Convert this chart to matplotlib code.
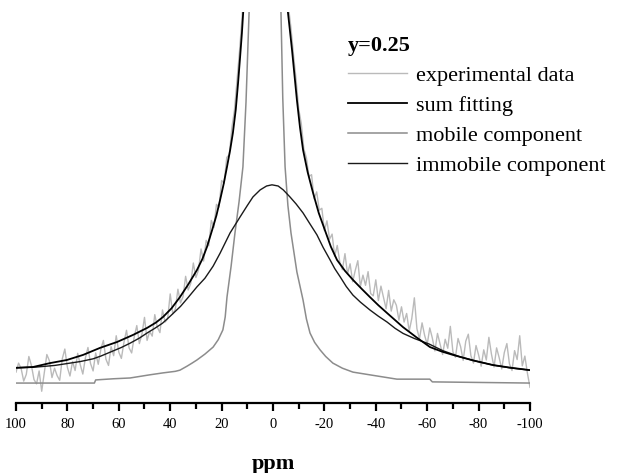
import matplotlib

matplotlib.use("Agg")
import matplotlib.pyplot as plt  # noqa: E402
from matplotlib.ticker import MultipleLocator  # noqa: E402

# chemical shift (ppm) and intensity (a.u., axis top = 100)
exp_ppm = list(range(100, -101, -1))
exp_int = [
    # 100 .. 12 ppm
    7.9, 10.2, 8.8, 5.6, 7.3, 11.9, 9.6, 6.0, 4.9, 8.2,
    3.0, 7.7, 12.4, 10.8, 6.5, 8.9, 7.0, 5.8, 11.3, 13.8,
    9.1, 6.9, 10.6, 8.3, 12.7, 9.8, 7.4, 11.5, 14.2, 10.1,
    8.2, 12.8, 9.9, 13.7, 16.0, 11.2, 9.6, 14.4, 12.1, 17.2,
    13.0, 11.4, 15.5, 18.6, 14.1, 12.8, 16.9, 19.8, 15.2, 17.6,
    21.9, 16.0, 18.3, 17.1, 22.6, 19.4, 18.0, 23.8, 20.7, 21.5,
    27.9, 22.8, 24.0, 29.1, 25.6, 27.2, 32.4, 28.9, 30.6, 35.8,
    32.1, 34.0, 39.4, 36.3, 41.6, 40.2, 46.7, 44.9, 50.8, 50.1,
    56.9, 56.2, 62.8, 63.5, 70.4, 74.9, 82.5, 90.2, 99.0,
    # 11 .. -5 ppm (above the top of the frame)
    112, 128, 155, 185, 220, 262, 305, 342, 362, 345,
    310, 272, 230, 192, 160, 132, 112,
    # -6 .. -100 ppm
    101.5, 95.8, 88.9, 82.6, 75.2, 71.5, 65.0, 62.7, 57.9, 58.4,
    52.2, 54.0, 49.3, 49.8, 44.1, 46.6, 41.9, 43.2, 37.5, 40.3,
    36.0, 34.1, 38.2, 33.0, 35.6, 31.0, 33.9, 36.4, 29.8, 32.7,
    30.1, 33.6, 28.0, 27.4, 31.5, 26.2, 29.9, 27.0, 24.1, 28.8,
    23.5, 26.4, 25.0, 21.2, 24.6, 20.7, 22.9, 18.4, 21.6, 26.9,
    19.0, 16.4, 20.5, 17.3, 15.0, 19.2, 16.6, 13.3, 17.8, 15.1,
    12.4, 16.3, 14.0, 19.6, 13.1, 11.7, 16.5, 14.4, 10.9, 15.8,
    17.6, 12.1, 10.2, 14.7, 12.3, 9.4, 13.6, 11.0, 16.8, 12.5,
    9.2, 14.1, 11.6, 8.7, 12.9, 15.2, 10.0, 8.3, 13.4, 11.1,
    17.2, 9.5, 12.0, 7.6, 4.0,
]

sum_ppm = [100, 93.4, 86.8, 80.2, 73.9, 67.3, 60.7, 54.5, 49.0, 45.5,
           42.8, 39.5, 36.2, 33.0, 29.6, 27.5, 25.7, 23.7, 22.0, 20.6,
           19.2, 17.9, 16.7, 15.6, 14.5, 13.6, 12.8, 12.1, 11.4, 10,
           8, 6, 4, 3, 2, 0, -2, -4, -5.8, -7.4,
           -9.3, -10.5, -11.7, -13.5, -15.6, -17.8, -20.2, -22.5, -24.9, -28.0,
           -31.1, -34.5, -37.7, -41.0, -44.4, -47.5, -50.6, -55.8, -61.1, -65.5,
           -70.0, -77.8, -85.6, -92.8, -100]
sum_int = [9.0, 9.2, 10.2, 11.0, 12.3, 14.1, 15.6, 17.4, 19.2, 20.6,
           22.0, 24.2, 27.1, 30.3, 34.0, 36.8, 39.9, 44.2, 48.0, 51.9,
           56.0, 60.4, 64.6, 69.1, 75.0, 81.8, 88.5, 94.6, 102, 125,
           180, 260, 340, 360, 340, 270, 190, 130, 100, 90.3,
           77.5, 70.5, 64.7, 59.0, 53.7, 48.6, 44.2, 40.0, 36.6, 33.8,
           31.5, 29.2, 27.1, 25.0, 23.0, 21.2, 19.4, 16.8, 14.3, 13.2,
           12.3, 10.9, 9.7, 9.0, 8.4]

mobile_ppm = [100, 69.5, 69, 62, 55.6, 48, 42.8, 38, 36.2, 33.5,
              31.5, 29.6, 26.5, 23.3, 21.3, 19.5, 18.6, 17.9, 16.3, 14.8,
              13.2, 11.7, 10.5, 9.3, 7, 5, 3, 1, -1, -3.1,
              -3.8, -4.7, -5.8, -7.0, -9.3, -11.7, -13.0, -14.4, -16.2, -18.3,
              -20.5, -23.3, -27, -31.1, -37.7, -48.2, -61, -62, -100]
mobile_int = [5.1, 5.1, 5.9, 6.2, 6.4, 7.2, 7.7, 8.1, 8.4, 9.4,
              10.2, 11.0, 12.5, 14.3, 16.2, 18.7, 22.0, 27.1, 35.0, 43.5,
              51.5, 60.4, 77, 100, 150, 250, 330, 250, 150, 100,
              78, 60.4, 50.5, 43.5, 33.5, 26.3, 21.5, 17.9, 15.5, 13.6,
              11.9, 10.2, 8.9, 7.9, 7.2, 6.1, 6.1, 5.4, 5.1]

immobile_ppm = [100, 92, 85, 80, 75, 70, 67, 63, 59, 55.6,
                52, 49, 46, 43, 40, 36, 33, 29.6, 26.5, 23.3,
                20.6, 16.7, 12.8, 10, 7.8, 5, 2.5, 0.4, -2, -4,
                -6.6, -9, -11.7, -14, -17.1, -19.5, -22.2, -24, -26.2, -28.5,
                -31.1, -34, -37.7, -41, -44.4, -47.5, -50.6, -55, -60.7, -66,
                -72.8, -79, -85.6, -92, -100]
immobile_int = [9.0, 9.2, 9.6, 10.1, 10.6, 11.3, 12.0, 13.1, 14.2, 15.3,
                16.6, 17.9, 19.1, 20.4, 22.2, 24.7, 27.0, 29.7, 31.9, 35.0,
                38.3, 43.5, 47.6, 50.5, 52.7, 54.5, 55.5, 55.8, 55.5, 54.5,
                52.7, 50.9, 48.6, 46.2, 43.0, 39.8, 36.6, 34.4, 32.2, 29.8,
                27.6, 25.8, 23.8, 22.2, 20.7, 19.1, 17.8, 16.5, 15.1, 13.4,
                11.8, 10.7, 9.7, 9.0, 8.4]

plt.rcParams["font.family"] = ["Liberation Serif", "DejaVu Serif"]
plt.rcParams["axes.unicode_minus"] = False

fig = plt.figure(figsize=(6.2, 4.73), dpi=100)
ax = fig.add_axes([16 / 620, 70 / 473, 514 / 620, 391 / 473])

ax.plot(exp_ppm, exp_int, color="#bababa", lw=1.0, label="experimental data", zorder=1)
ax.plot(mobile_ppm, mobile_int, color="#8c8c8c", lw=1.1, label="mobile component", zorder=2)
ax.plot(immobile_ppm, immobile_int, color="#1a1a1a", lw=1.0, label="immobile component", zorder=3)
ax.plot(sum_ppm, sum_int, color="black", lw=1.3, label="sum fitting", zorder=4)

ax.set_xlim(100, -100)
ax.set_ylim(0, 100)
for side in ("top", "right", "left"):
    ax.spines[side].set_visible(False)
ax.spines["bottom"].set_linewidth(1.6)
ax.set_yticks([])
ax.xaxis.set_major_locator(MultipleLocator(20))
ax.xaxis.set_minor_locator(MultipleLocator(10))
ax.tick_params(axis="x", which="major", direction="out", length=6, width=1.6,
               labelsize=10.5, pad=5)
ax.tick_params(axis="x", which="minor", direction="out", length=4, width=1.6)
ax.set_xlabel("ppm", fontsize=16, fontweight="bold", labelpad=16)

handles, labels = ax.get_legend_handles_labels()
order = [0, 3, 1, 2]
leg = ax.legend([handles[i] for i in order], [labels[i] for i in order],
                loc="upper left", bbox_to_anchor=(348 / 620, 1 - 36 / 473),
                bbox_transform=fig.transFigure, frameon=False, fontsize=16,
                title="y=0.25", alignment="left", handlelength=2.66,
                handletextpad=0.4, labelspacing=0.42, borderpad=0, borderaxespad=0)
leg.get_title().set_fontweight("bold")
leg.get_title().set_fontsize(16)

fig.savefig("out.png", dpi=100)
